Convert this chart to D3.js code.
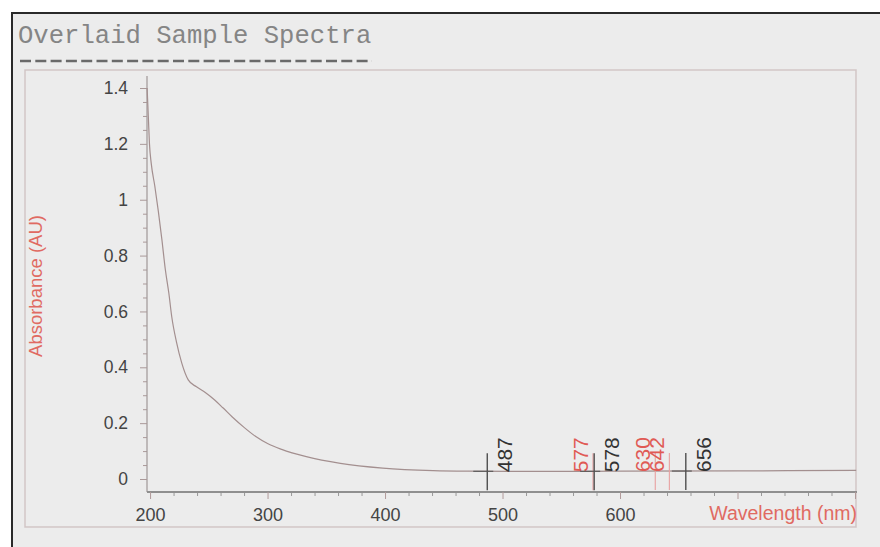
<!DOCTYPE html>
<html>
<head>
<meta charset="utf-8">
<script src="https://cdn.jsdelivr.net/npm/d3@7/dist/d3.min.js"></script>
<style>
  html, body { margin: 0; padding: 0; background: #ffffff; }
  svg { display: block; }
</style>
</head>
<body>
<svg id="chart" width="880" height="547"></svg>
<script>
// ---------- data ----------
const titleText = "Overlaid Sample Spectra";
const xAxisLabel = "Wavelength (nm)";
const yAxisLabel = "Absorbance (AU)";

const wavelength = [197.5, 198.5, 199.5, 201, 204, 207, 210, 213, 216, 218.5, 222.5, 227, 232.5, 239.5, 247, 255, 262, 270, 280, 290, 300, 312, 333, 362, 398, 441, 470, 520, 600, 700, 801];
const absorbance = [1.40, 1.30, 1.20, 1.13, 1.05, 0.96, 0.86, 0.75, 0.665, 0.58, 0.49, 0.415, 0.355, 0.33, 0.31, 0.283, 0.255, 0.222, 0.185, 0.152, 0.127, 0.106, 0.080, 0.056, 0.039, 0.030, 0.028, 0.027, 0.028, 0.029, 0.031];

const peakWavelengths = [487, 577, 578, 630, 642, 656];
const peakSample = ["A", "B", "A", "B", "B", "A"];

const xTickValues = [200, 300, 400, 500, 600];
const xTickLabels = ["200", "300", "400", "500", "600"];
const yTickValues = [0, 0.2, 0.4, 0.6, 0.8, 1, 1.2, 1.4];
const yTickLabels = ["0", "0.2", "0.4", "0.6", "0.8", "1", "1.2", "1.4"];

// ---------- drawing ----------
const svg = d3.select("#chart");
const W = 880, H = 547;

// panel background with dark top/left border
svg.append("rect").attr("x", 12).attr("y", 13).attr("width", W - 12).attr("height", H - 13).attr("fill", "#ececec");
svg.append("line").attr("x1", 11).attr("x2", W).attr("y1", 13).attr("y2", 13).attr("stroke", "#2a2a2a").attr("stroke-width", 2);
svg.append("line").attr("x1", 12).attr("x2", 12).attr("y1", 12).attr("y2", H).attr("stroke", "#2a2a2a").attr("stroke-width", 2);

// inner frame
svg.append("rect").attr("x", 25).attr("y", 70).attr("width", 831).attr("height", 457)
  .attr("fill", "none").attr("stroke", "#d2c6c6").attr("stroke-width", 1.5);

// title
svg.append("text").attr("x", 18).attr("y", 43)
  .attr("font-family", "'Liberation Mono', 'DejaVu Sans Mono', monospace")
  .attr("font-size", 25.6).attr("fill", "#858585")
  .text(titleText);
svg.append("line").attr("x1", 20).attr("x2", 372).attr("y1", 61).attr("y2", 61)
  .attr("stroke", "#6a6a6a").attr("stroke-width", 2.5).attr("stroke-dasharray", "11,4.3");

// scales
const x = d3.scaleLinear().domain([197.4, 801.7]).range([147, 857]);
const y = d3.scaleLinear().domain([-0.0465, 1.443]).range([492, 76]);

const font = "'Liberation Sans', Arial, sans-serif";

// y axis
const yMinor = d3.range(0, 1.4001, 0.05).filter(v => !yTickValues.some(t => Math.abs(t - v) < 1e-6));
const yMinorAxis = d3.axisLeft(y).tickValues(yMinor).tickSize(4).tickFormat("");
const gyMinor = svg.append("g").attr("transform", "translate(147,0)").call(yMinorAxis);
gyMinor.select(".domain").remove();
gyMinor.selectAll(".tick line").attr("stroke", "#a99").attr("stroke-width", 1);

const yAxis = d3.axisLeft(y).tickValues(yTickValues).tickSize(7).tickPadding(12)
  .tickFormat((d, i) => yTickLabels[i]);
const gy = svg.append("g").attr("transform", "translate(147,0)").call(yAxis);
gy.select(".domain").attr("stroke", "#a09898").attr("stroke-width", 1.2).attr("d", `M0,${y.range()[1]}V${y.range()[0]}`);
gy.selectAll(".tick line").attr("stroke", "#a99");
gy.selectAll(".tick text").attr("font-family", font).attr("font-size", 17.5).attr("fill", "#444");

// x axis
const xMinor = d3.range(200, 801, 20).filter(v => v % 100 !== 0);
const xMinorAxis = d3.axisBottom(x).tickValues(xMinor).tickSize(4).tickFormat("");
const gxMinor = svg.append("g").attr("transform", "translate(0,492)").call(xMinorAxis);
gxMinor.select(".domain").remove();
gxMinor.selectAll(".tick line").attr("stroke", "#999");

const xMajorAll = [200, 300, 400, 500, 600, 700, 800];
const xAxisTicks = d3.axisBottom(x).tickValues(xMajorAll).tickSize(7).tickFormat("");
const gxT = svg.append("g").attr("transform", "translate(0,492)").call(xAxisTicks);
gxT.select(".domain").attr("stroke", "#8f8f8f").attr("stroke-width", 1.8).attr("d", `M${x.range()[0]},0H${x.range()[1]}`);
gxT.selectAll(".tick line").attr("stroke", "#b09a9a");

const xAxis = d3.axisBottom(x).tickValues(xTickValues).tickSize(0).tickPadding(16)
  .tickFormat((d, i) => xTickLabels[i]);
const gx = svg.append("g").attr("transform", "translate(0,492)").call(xAxis);
gx.select(".domain").remove();
gx.selectAll(".tick text").attr("font-family", font).attr("font-size", 18).attr("fill", "#444");

// axis labels
svg.append("text").attr("x", 857).attr("y", 520).attr("text-anchor", "end")
  .attr("font-family", font).attr("font-size", 19.5).attr("fill", "#e06a62").text(xAxisLabel);
svg.append("text").attr("transform", "translate(41.5,286) rotate(-90)").attr("text-anchor", "middle")
  .attr("font-family", font).attr("font-size", 18.5).attr("fill", "#e06a62").text(yAxisLabel);

// spectrum curve
const pts = wavelength.map((w, i) => [w, absorbance[i]]);
const line = d3.line().x(d => x(d[0])).y(d => y(d[1])).curve(d3.curveMonotoneX);
svg.append("path").datum(pts).attr("d", line)
  .attr("fill", "none").attr("stroke", "#a38f8f").attr("stroke-width", 1.2);

// peak markers
const curveAt = w => {
  const i = d3.bisector(d => d[0]).left(pts, w);
  const a = pts[Math.max(0, i - 1)], b = pts[Math.min(pts.length - 1, i)];
  if (a[0] === b[0]) return a[1];
  return a[1] + (b[1] - a[1]) * (w - a[0]) / (b[0] - a[0]);
};
const colorOf = s => s === "A" ? "#333333" : "#e05a55";
const markerLineColor = s => s === "A" ? "#444" : "#e8a0a0";

peakWavelengths.forEach((w, i) => {
  const s = peakSample[i];
  const px = x(w);
  const py = y(curveAt(w));
  svg.append("line").attr("x1", px).attr("x2", px).attr("y1", py - 18).attr("y2", py + 19)
    .attr("stroke", markerLineColor(s)).attr("stroke-width", s === "A" ? 1.3 : 1.1);
  if (s === "A") {
    svg.append("line").attr("x1", px - 14).attr("x2", px + 6).attr("y1", py).attr("y2", py)
      .attr("stroke", "#555").attr("stroke-width", 1.1);
  }
  const lx = s === "A" ? px + 25 : px - 5;
  svg.append("text").attr("transform", `translate(${lx},${py + 1}) rotate(-90)`)
    .attr("font-family", font).attr("font-size", 21).attr("fill", colorOf(s))
    .text(String(w));
});
</script>
</body>
</html>
